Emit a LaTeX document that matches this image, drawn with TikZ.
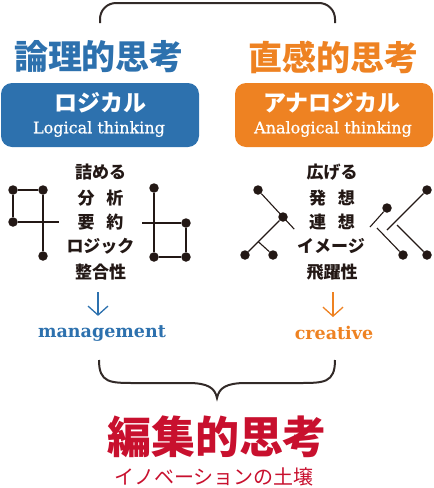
\documentclass[tikz,border=0pt]{standalone}
\usepackage{fontspec}
\usepackage{tikz}
\usetikzlibrary{arrows.meta,calc}

\newfontfamily\jp{Noto Sans CJK JP}
\newfontfamily\lat{DejaVu Serif}
\newfontfamily\latsemi{DejaVu Serif}[FakeBold=0.7]

\definecolor{logicblue}{RGB}{45,113,174}
\definecolor{anaorange}{RGB}{238,130,34}
\definecolor{editred}{RGB}{200,16,46}
\definecolor{ink}{RGB}{35,24,21}
\definecolor{bracegray}{RGB}{50,42,40}

\begin{document}
\begin{tikzpicture}[x=1pt, y=-1pt,
    dot/.style={circle, fill=ink, inner sep=0pt, minimum size=9.5pt},
    link/.style={ink, line width=1.1pt},
    word/.style={font=\jp\bfseries\fontsize{17}{17}\selectfont, text=ink, inner sep=0pt},
    headline/.style={font=\jp\bfseries\fontsize{34}{34}\selectfont, inner sep=0pt},
    box/.style={rounded corners=11pt, minimum width=198pt, minimum height=64pt, inner sep=0pt},
    kana/.style={font=\jp\bfseries\fontsize{23}{23}\selectfont, text=white, inner sep=0pt},
    eng/.style={font=\latsemi\fontsize{16}{16}\selectfont, text=white, inner sep=0pt},
    brace/.style={bracegray, line width=2pt},
    arr/.style={line width=1.3pt, -{Straight Barb[length=9pt, width=20pt]}}]
    \useasboundingbox (0,0) rectangle (434,488);

    % Top brace
    \draw[brace, rounded corners=16pt] (100,23) -- (100,3) -- (335,3) -- (335,23);

    % Headlines
    \node[headline, text=logicblue] (titleL) at (99,57) {論理的思考};
    \node[headline, text=anaorange] (titleR) at (333,57) {直感的思考};

    % Boxes
    \node[box, fill=logicblue] (boxL) at (100,115) {};
    \node[box, fill=anaorange] (boxR) at (334,115) {};
    \node[kana] (kataL) at (100,103) {ロジカル};
    \node[eng] (engL) at (99,129) {Logical thinking};
    \node[kana] (kataR) at (332,103) {アナロジカル};
    \node[eng] (engR) at (333,129) {Analogical thinking};

    % Left word column
    \node[word] (l1) at (100.5,172) {詰める};
    \node[word] (l2) at (100.5,198) {分\hspace{0.7em}析};
    \node[word] (l3) at (100.5,222) {要\hspace{0.7em}約};
    \node[word] (l4) at (100.5,246) {ロジック};
    \node[word] (l5) at (100.5,272) {整合性};

    % Right word column
    \node[word] (r1) at (332,172) {広げる};
    \node[word] (r2) at (332,198) {発\hspace{0.7em}想};
    \node[word] (r3) at (332,222) {連\hspace{0.7em}想};
    \node[word] (r4) at (331,246) {イメージ};
    \node[word] (r5) at (332,272) {飛躍性};

    % Logical graph, left
    \node[dot] (la) at (13,190) {};
    \node[dot] (lb) at (43,190) {};
    \node[dot] (lc) at (13,222) {};
    \node[dot] (ld) at (43,256) {};
    \coordinate (lcEnd) at (59,222);
    \draw[link] (la) -- (lb);
    \draw[link] (la) -- (lc);
    \draw[link] (lb) -- (ld);
    \draw[link] (lc) -- (lcEnd);

    % Logical graph, right
    \node[dot] (le) at (154,188) {};
    \node[dot] (lf) at (186,223) {};
    \node[dot] (lg) at (154,257) {};
    \node[dot] (lh) at (186,257) {};
    \coordinate (lfEnd) at (142,223);
    \draw[link] (le) -- (lg);
    \draw[link] (lg) -- (lh);
    \draw[link] (lf) -- (lh);
    \draw[link] (lfEnd) -- (lf);

    % Analogical graph, left
    \node[dot] (ga) at (258,190) {};
    \node[dot] (gb) at (283,217) {};
    \node[dot] (gc) at (245,255) {};
    \node[dot] (gd) at (273,255) {};
    \coordinate (gbEnd) at ($(ga)!1.45!(gb)$);
    \coordinate (gFork) at ($(gb)!0.65!(gc)$);
    \draw[link] (ga) -- (gbEnd);
    \draw[link] (gb) -- (gc);
    \draw[link] (gFork) -- (gd);

    % Analogical graph, right
    \node[dot] (ge) at (427,190) {};
    \node[dot] (gf) at (387,208) {};
    \node[dot] (gg) at (403,255) {};
    \node[dot] (gh) at (427,255) {};
    \coordinate (geEnd) at (387,230);
    \coordinate (gfEnd) at (370,227);
    \coordinate (ggStart) at (377,228);
    \coordinate (ghStart) at (397,225);
    \draw[link] (ge) -- (geEnd);
    \draw[link] (gf) -- (gfEnd);
    \draw[link] (ggStart) -- (gg);
    \draw[link] (ghStart) -- (gh);

    % Results
    \node[font=\lat\bfseries\fontsize{17.5}{17.5}\selectfont, text=logicblue, inner sep=0pt] (mgmt) at (102,333) {management};
    \node[font=\lat\bfseries\fontsize{17.5}{17.5}\selectfont, text=anaorange, inner sep=0pt] (crea) at (334,333) {creative};
    \draw[arr, logicblue] ([shift={(-2.5,12)}]l5.south) -- ([shift={(-4,-9)}]mgmt.north);
    \draw[arr, anaorange] ([shift={(1,12)}]r5.south) -- ([shift={(-1,-9)}]crea.north);

    % Bottom brace
    \draw[brace] (99,360) .. controls (99,383) and (110,383) .. (135,383) -- (188,383)
        .. controls (208,383) and (215,388) .. (217,398)
        .. controls (219,388) and (226,383) .. (246,383) -- (299,383)
        .. controls (324,383) and (335,383) .. (335,360);

    % Editorial thinking
    \node[font=\jp\bfseries\fontsize{44}{44}\selectfont, text=editred, inner sep=0pt] (edit) at (217,437) {編集的思考};
    \node[font=\jp\fontsize{20}{20}\selectfont, text=editred, inner sep=0pt] (soil) at (214,477) {イノベーションの土壌};
\end{tikzpicture}
\end{document}
